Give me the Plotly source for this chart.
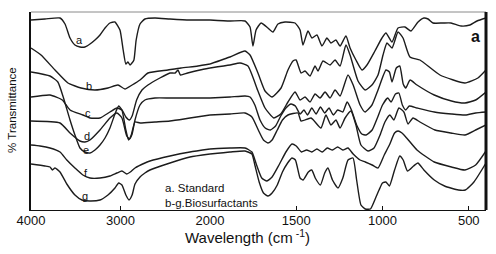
import plotly.graph_objects as go

# wavenumber (cm-1) and relative transmittance (arbitrary offset units) for each spectrum
WN_A = [4000,3844,3676,3620,3564,3509,3453,3397,3341,3285,3229,3173,3118,3062,3006,2970,2940,2917,2894,2872,2850,2825,2782,2727,2615,2447,2224,2000,
        1884,1797,1768,1751,1733,1704,1664,1635,1606,1565,1507,1478,1461,1432,1409,1380,1351,1322,1299,1270,1246,1212,1188,1154,1119,1090,1044,1003,980,945,910,870,835,794,760,736,707,650,603,545,493,452,400]
T_A = [190,191,192,186,172,165,163,163,166,170,175,182,187,188,180,160,146,148,145,147,150,170,186,191,192,191,190,190,
       189,189,183,164,180,187,182,178,186,188,187,180,165,179,172,175,164,172,167,170,164,174,162,150,140,145,159,172,177,168,182,183,179,188,192,191,187,187,187,184,185,189,192]

WN_B = [4000,3888,3732,3587,3441,3285,3140,3028,2950,2870,2782,2693,2470,2324,2135,2000,
        1884,1797,1768,1722,1681,1641,1588,1548,1519,1501,1472,1449,1420,1391,1374,1345,1304,1275,1246,1212,1188,1142,1101,1061,1026,997,974,945,910,881,841,783,667,522,447,400]
T_B = [162,155,140,127,122,120,122,125,121,125,130,137,140,142,144,146,
       153,159,155,137,119,113,122,140,149,150,137,139,134,144,139,149,145,150,144,165,155,129,120,125,135,155,167,162,178,172,153,150,135,127,132,140]

WN_C = [4000,3788,3650,3564,3420,3341,3229,3118,3040,2984,2940,2900,2870,2820,2760,2693,2560,2447,2390,2358,2330,2250,2112,2000,
        1884,1826,1780,1722,1681,1630,1590,1548,1507,1478,1449,1420,1391,1362,1333,1304,1275,1246,1200,1170,1130,1101,1061,1026,980,960,945,920,900,880,865,840,800,700,600,522,460,400]
T_C = [113,115,110,100,95,92,92,98,102,100,93,90,94,110,120,125,132,137,137,140,135,137,140,142,
       145,147,144,119,102,92,96,108,118,110,113,108,116,112,118,112,120,114,135,125,105,98,105,120,140,138,128,142,144,126,122,130,125,115,109,107,110,118]

WN_D = [4000,3676,3564,3453,3397,3341,3229,3118,3040,2984,2930,2900,2870,2838,2782,2727,2615,2447,2224,2000,
        1884,1797,1768,1740,1710,1680,1650,1620,1590,1560,1530,1505,1478,1455,1435,1410,1385,1360,1335,1310,1285,1260,1230,1205,1180,1150,1120,1095,1060,1030,1000,970,950,925,905,885,865,845,800,700,600,520,460,400]
T_D = [89,87,77,69,68,70,80,92,97,92,74,71,76,90,105,110,112,112,112,112,
       113,114,113,105,90,82,80,84,94,102,106,104,96,100,95,102,96,103,97,102,95,100,98,108,100,85,76,75,80,92,105,112,108,116,117,105,100,104,102,98,96,95,97,98]

WN_E = [4000,3788,3700,3640,3564,3509,3453,3397,3341,3285,3229,3173,3118,3062,3020,2984,2940,2910,2880,2838,2782,2615,2447,2224,2000,
        1884,1797,1757,1720,1690,1664,1640,1610,1580,1548,1490,1472,1414,1357,1328,1299,1270,1246,1217,1183,1154,1125,1084,1049,1014,986,957,934,905,876,852,823,783,696,603,522,460,400]
T_E = [138,134,128,113,90,75,62,58,57,60,65,72,82,96,104,100,80,70,75,88,87,88,89,92,95,
       96,97,93,80,70,67,70,80,90,95,97,89,92,82,95,85,90,82,92,99,85,65,59,62,75,88,95,90,102,98,86,92,88,80,77,75,80,85]

WN_F = [4000,3899,3788,3676,3600,3509,3420,3341,3229,3118,3040,2984,2930,2890,2838,2727,2671,2447,2224,2000,
        1884,1797,1757,1730,1700,1670,1640,1600,1560,1525,1500,1470,1440,1410,1380,1350,1320,1290,1260,1230,1200,1170,1130,1100,1060,1026,990,960,930,910,887,860,800,700,600,522,460,400]
T_F = [65,64,62,58,50,42,35,32,32,34,37,39,36,38,42,47,49,54,58,61,
       62,62,58,45,32,29,33,45,58,66,64,58,60,58,61,58,62,60,63,60,62,56,50,48,45,42,55,65,77,79,77,72,60,48,43,40,45,59]

WN_G = [4000,3844,3788,3760,3732,3676,3600,3509,3430,3341,3229,3140,3062,3020,2984,2940,2905,2870,2838,2782,2727,2671,2447,2224,2000,
        1884,1797,1757,1740,1715,1690,1664,1640,1610,1580,1550,1525,1505,1478,1460,1430,1410,1390,1360,1335,1316,1290,1258,1230,1200,1171,1150,1125,1100,1070,1040,1020,1000,980,960,930,900,880,855,820,795,760,700,640,560,520,470,400]
T_G = [46,44,43,40,42,38,26,15,10,9,10,15,22,27,25,15,10,15,26,33,37,40,47,53,56,
       58,59,56,45,28,17,14,17,25,38,47,52,50,32,30,38,40,32,25,37,42,30,22,32,50,52,30,5,1,1,12,20,27,28,24,40,54,50,39,44,47,40,30,24,20,20,28,47]

SERIES = [("a", WN_A, T_A), ("b", WN_B, T_B), ("c", WN_C, T_C), ("d", WN_D, T_D),
          ("e", WN_E, T_E), ("f", WN_F, T_F), ("g", WN_G, T_G)]

# label positions (wavenumber, transmittance) for curve letters
LABELS = [("a", 3453, 170), ("b", 3352, 124), ("c", 3363, 97), ("d", 3374, 74),
          ("e", 3386, 60), ("f", 3386, 37), ("g", 3397, 14)]

HI_TICKS = [4000, 3000]
LO_TICKS = [2000, 1500, 1000, 500]

FONT = "Liberation Sans, Arial, sans-serif"
LINE = dict(color="#1c1c1c", width=1.4, shape="spline", smoothing=0.5)

fig = go.Figure()
for name, wn, t in SERIES:
    hi = [(w, v) for w, v in zip(wn, t) if w >= 2000]
    lo = [(w, v) for w, v in zip(wn, t) if w <= 2000]
    fig.add_trace(go.Scatter(x=[p[0] for p in hi], y=[p[1] for p in hi], xaxis="x", yaxis="y",
                             mode="lines", line=LINE, showlegend=False, name=name, hoverinfo="skip"))
    fig.add_trace(go.Scatter(x=[p[0] for p in lo], y=[p[1] for p in lo], xaxis="x2", yaxis="y",
                             mode="lines", line=LINE, showlegend=False, name=name, hoverinfo="skip"))

split = 0.3934
axis_common = dict(showgrid=False, zeroline=False, showline=True, linecolor="#111", linewidth=1,
                   ticks="inside", ticklen=4, tickcolor="#111", automargin=False,
                   ticklabelstandoff=-2,
                   tickfont=dict(family=FONT, size=13, color="#111"), anchor="y")
fig.update_layout(
    width=496, height=254,
    margin=dict(l=31, r=10, t=12, b=44, autoexpand=False),
    paper_bgcolor="white", plot_bgcolor="white",
    xaxis=dict(domain=[0, split], range=[4000, 2000], tickvals=HI_TICKS,
               ticktext=[str(v) for v in HI_TICKS], **axis_common),
    xaxis2=dict(domain=[split, 1], range=[2000, 400], tickvals=LO_TICKS,
                ticktext=[str(v) for v in LO_TICKS], **axis_common),
    yaxis=dict(range=[0, 198], showticklabels=False, showgrid=False, zeroline=False,
               showline=True, linecolor="#111", linewidth=2, ticks="", automargin=False),
)

shapes = [
    dict(type="line", xref="paper", yref="paper", x0=0, x1=1, y0=1, y1=1, line=dict(color="#8a8a8a", width=1)),
    dict(type="line", xref="paper", yref="paper", x0=1, x1=1, y0=0, y1=1, line=dict(color="#111", width=3)),
]
fig.update_layout(shapes=shapes)

ann = []
for lab, w, t in LABELS:
    ann.append(dict(x=w, y=t, xref="x", yref="y", text=lab, showarrow=False,
                    xanchor="center", yanchor="middle",
                    font=dict(family=FONT, size=11, color="#111")))
ann.append(dict(x=458, y=174, xref="x2", yref="y", text="<b>a</b>", showarrow=False,
                xanchor="center", yanchor="middle",
                font=dict(family=FONT, size=16, color="#111")))
ann.append(dict(x=2526, y=22, xref="x", yref="y", text="a. Standard", showarrow=False,
                xanchor="left", yanchor="middle",
                font=dict(family=FONT, size=11.5, color="#111")))
ann.append(dict(x=2526, y=7, xref="x", yref="y", text="b-g.Biosurfactants", showarrow=False,
                xanchor="left", yanchor="middle",
                font=dict(family=FONT, size=11.5, color="#111")))
ann.append(dict(x=0.475, y=-0.135, xref="paper", yref="paper", text="Wavelength (cm<sup> -1</sup>)",
                showarrow=False, xanchor="center", yanchor="middle",
                font=dict(family=FONT, size=15, color="#111")))
ann.append(dict(x=-0.042, y=0.505, xref="paper", yref="paper", text="% Transmittance", textangle=-90,
                showarrow=False, xanchor="center", yanchor="middle",
                font=dict(family=FONT, size=11.5, color="#111")))
fig.update_layout(annotations=ann)

fig.write_html("out.html", config={"displayModeBar": False, "staticPlot": True},
               post_script="document.body.style.margin='0px';document.body.style.overflow='hidden';")
